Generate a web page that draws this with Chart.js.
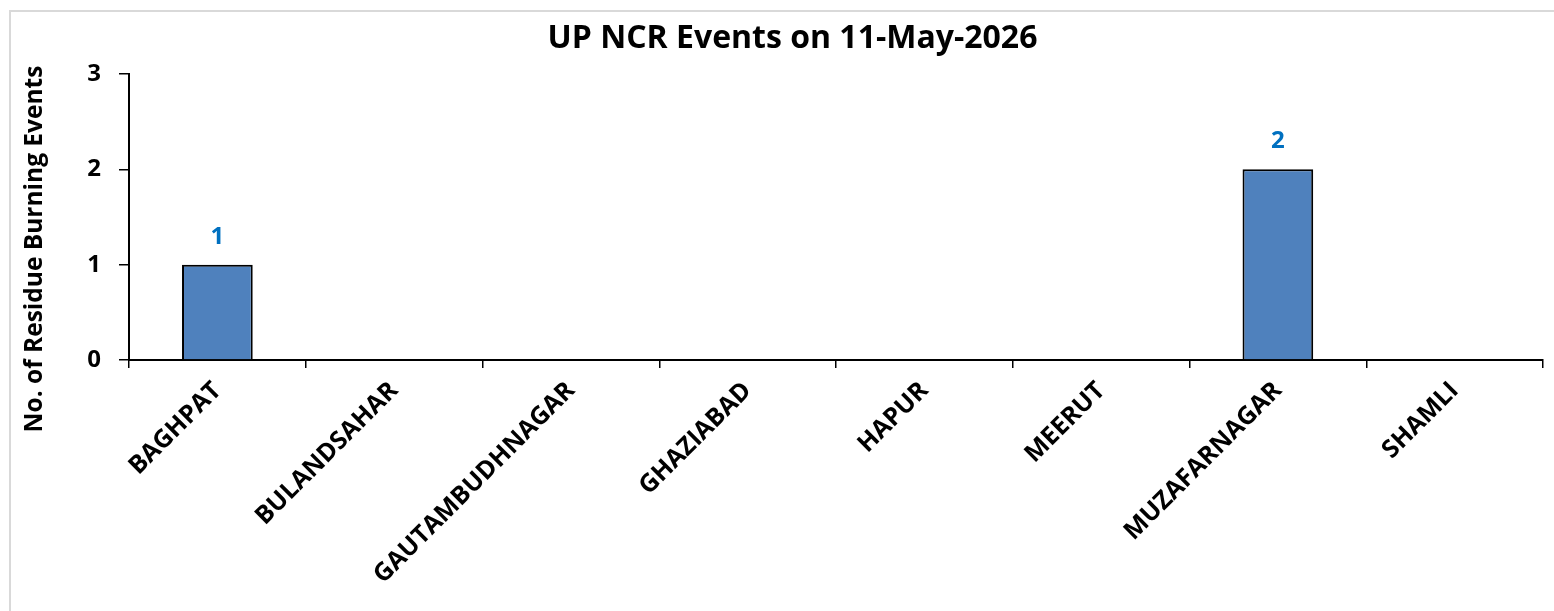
<!DOCTYPE html>
<html>
<head>
<meta charset="utf-8">
<script src="https://cdn.jsdelivr.net/npm/chart.js@4.4.1/dist/chart.umd.min.js"></script>
<style>
    body { margin: 0; background: #fff; overflow: hidden; }
    #wrap { position: absolute; left: 0; top: 0; width: 1554px; height: 611px; }
    #frame { position: absolute; left: 9px; top: 10px; width: 1600px; height: 700px; border: 2px solid #d9d9d9; }
    canvas { position: absolute; left: 0; top: 0; }
</style>
</head>
<body>
<div id="wrap">
    <div id="frame"></div>
    <canvas id="burnChart" width="1554" height="611"></canvas>
</div>
<script>
const chartTitle = 'UP NCR Events on 11-May-2026';
const yAxisTitle = 'No. of Residue Burning Events';
const districts = ['BAGHPAT', 'BULANDSAHAR', 'GAUTAMBUDHNAGAR', 'GHAZIABAD', 'HAPUR', 'MEERUT', 'MUZAFARNAGAR', 'SHAMLI'];
const eventCounts = [1, 0, 0, 0, 0, 0, 2, 0];
const yTicks = [0, 1, 2, 3];

const fontName = '"Open Sans", sans-serif';
let barColor = '#4f81bd';
let labelBlue = '#0070c0';

// value labels above the bars (zero bars get none)
const valueLabels = {
    id: 'valueLabels',
    afterDatasetsDraw(chart) {
        const ctx = chart.ctx;
        const meta = chart.getDatasetMeta(0);
        ctx.save();
        ctx.font = 'bold 24px ' + fontName;
        ctx.fillStyle = labelBlue;
        ctx.textAlign = 'center';
        ctx.textBaseline = 'middle';
        meta.data.forEach((bar, i) => {
            const v = eventCounts[i];
            if (!v) return;
            ctx.fillText(String(v), bar.x, bar.y - 28);
        });
        ctx.restore();
    }
};

// y axis title sits a bit below the middle of the plot, so draw it here
const sideTitle = {
    id: 'sideTitle',
    afterDraw(chart) {
        const ctx = chart.ctx;
        ctx.save();
        ctx.translate(35, 249);
        ctx.rotate(-Math.PI / 2);
        ctx.font = 'bold 24.5px ' + fontName;
        ctx.fillStyle = '#000';
        ctx.textAlign = 'center';
        ctx.textBaseline = 'middle';
        ctx.fillText(yAxisTitle, 0, 0);
        ctx.restore();
    }
};

const ctx = document.getElementById('burnChart').getContext('2d');
new Chart(ctx, {
    type: 'bar',
    data: {
        labels: districts,
        datasets: [{
            label: 'Events',
            data: eventCounts,
            backgroundColor: barColor,
            borderColor: '#000',
            borderWidth: 2,
            barPercentage: 0.4,
            categoryPercentage: 1
        }]
    },
    options: {
        responsive: false,
        animation: false,
        // left padding also shifts the title centre to where the original has it
        layout: { padding: { left: 42, right: 11, top: 0, bottom: 0 } },
        plugins: {
            legend: { display: false },
            tooltip: { enabled: false },
            title: {
                display: true,
                text: chartTitle,
                color: '#000',
                font: { family: fontName, size: 32, weight: 'bold' },
                padding: { top: 19.8, bottom: 15.8 }
            }
        },
        scales: {
            x: {
                grid: {
                    offset: true,
                    drawOnChartArea: false,
                    drawTicks: true,
                    tickLength: 8,
                    color: '#000',
                    lineWidth: 1.5
                },
                border: { color: '#000', width: 2 },
                ticks: {
                    color: '#000',
                    minRotation: 45,
                    maxRotation: 45,
                    autoSkip: false,
                    padding: 8,
                    font: { family: fontName, size: 25, weight: 'bold' }
                },
                afterFit(scale) {
                    scale.height = 251;
                }
            },
            y: {
                min: 0,
                max: 3,
                afterBuildTicks(scale) {
                    scale.ticks = yTicks.map(v => ({ value: v }));
                },
                grid: {
                    drawOnChartArea: false,
                    drawTicks: true,
                    tickLength: 10,
                    color: '#000',
                    lineWidth: 1.5
                },
                border: { color: '#000', width: 2 },
                ticks: {
                    color: '#000',
                    padding: 18,
                    font: { family: fontName, size: 24, weight: 'bold' }
                },
                afterFit(scale) {
                    scale.width = 87;
                }
            }
        }
    },
    plugins: [valueLabels, sideTitle]
});
</script>
</body>
</html>
